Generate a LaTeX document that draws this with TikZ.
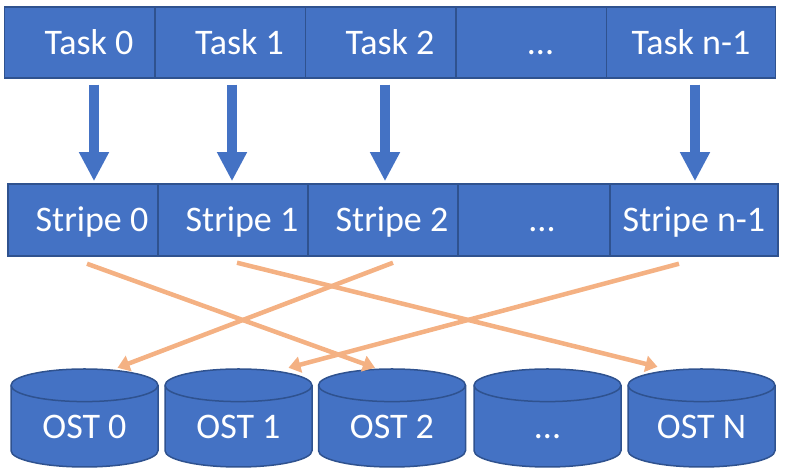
\documentclass[tikz,border=0pt]{standalone}
\usepackage{fontspec}
\setmainfont{Carlito}
\usetikzlibrary{arrows.meta}
\definecolor{boxblue}{HTML}{4472C4}
\definecolor{edgeblue}{HTML}{2F528F}
\definecolor{lineorange}{HTML}{F4B183}

% disk centred at #1, 147 wide and 98 high
\newcommand{\ostdisk}[1]{%
  \path[fill=boxblue,draw=edgeblue,line width=1.5pt,shift={#1}] (-73.5,32.7) -- (-73.5,-32.7)
    arc[start angle=180,end angle=360,x radius=73.5,y radius=16.3] -- (73.5,32.7)
    arc[start angle=0,end angle=180,x radius=73.5,y radius=16.3] -- cycle;
  \draw[edgeblue,line width=1.5pt,shift={#1}] (-73.5,32.7) arc[start angle=180,end angle=360,x radius=73.5,y radius=16.3];}

\begin{document}
\begin{tikzpicture}[x=1pt, y=1pt,
        cell/.style={draw=edgeblue,fill=boxblue,line width=1.5pt,rectangle,minimum width=169pt,minimum height=71pt,inner sep=0pt,text=white,text height=31pt,text depth=7pt,font=\fontsize{36}{40}\selectfont},
        ost/.style={rectangle,minimum width=147pt,minimum height=98pt,inner sep=0pt,text=white,text height=47.6pt,text depth=7pt,font=\fontsize{36}{40}\selectfont},
        taskarrow/.style={draw=boxblue,line width=10pt,-{Triangle[width=28pt,length=29pt]}},
        stripeline/.style={draw=lineorange,line width=4.5pt,-{Triangle[width=16pt,length=12pt]}}]
        \useasboundingbox (0,0) rectangle (785,470);
        \node[cell] (T0) at (89,427.7) {Task 0};
        \node[cell] (T1) at (239.5,427.7) {Task 1};
        \node[cell] (T2) at (390,427.7) {Task 2};
        \node[cell] (T3) at (540.5,427.7) {...};
        \node[cell] (T4) at (691,427.7) {Task n-1};
        \node[cell,minimum width=168pt,minimum height=72pt] (S0) at (92,250) {Stripe 0};
        \node[cell,minimum width=168pt,minimum height=72pt] (S1) at (242,250) {Stripe 1};
        \node[cell,minimum width=168pt,minimum height=72pt] (S2) at (392,250) {Stripe 2};
        \node[cell,minimum width=168pt,minimum height=72pt] (S3) at (542,250) {...};
        \node[cell,minimum width=168pt,minimum height=72pt] (S4) at (694,250) {Stripe n-1};
        \ostdisk{(84.5,52)}
        \ostdisk{(238.5,52)}
        \ostdisk{(392,52)}
        \ostdisk{(547.5,52)}
        \ostdisk{(701.5,52)}
        \node[ost] (O0) at (84.5,52) {OST 0};
        \node[ost] (O1) at (238.5,52) {OST 1};
        \node[ost] (O2) at (392,52) {OST 2};
        \node[ost] (O3) at (547.5,52) {...};
        \node[ost] (O4) at (701.5,52) {OST N};
        \draw[taskarrow] ([xshift=5pt,yshift=-6pt]T0.south) -- ([xshift=2pt,yshift=2pt]S0.north);
        \draw[taskarrow] ([xshift=-7.5pt,yshift=-6pt]T1.south) -- ([xshift=-10pt,yshift=2pt]S1.north);
        \draw[taskarrow] ([xshift=-5pt,yshift=-6pt]T2.south) -- ([xshift=-7pt,yshift=2pt]S2.north);
        \draw[taskarrow] ([xshift=4pt,yshift=-6pt]T4.south) -- ([xshift=1pt,yshift=2pt]S4.north);
        \draw[stripeline] ([xshift=-5pt,yshift=-7pt]S0.south) -- ([xshift=-17pt,yshift=1pt]O2.north);
        \draw[stripeline] ([xshift=-5pt,yshift=-6pt]S1.south) -- ([xshift=-44pt,yshift=2pt]O4.north);
        \draw[stripeline] ([xshift=1pt,yshift=-6pt]S2.south) -- ([xshift=33pt,yshift=1pt]O0.north);
        \draw[stripeline] ([xshift=-15pt,yshift=-7pt]S4.south) -- ([xshift=50pt,yshift=1pt]O1.north);
    \end{tikzpicture}
\end{document}
